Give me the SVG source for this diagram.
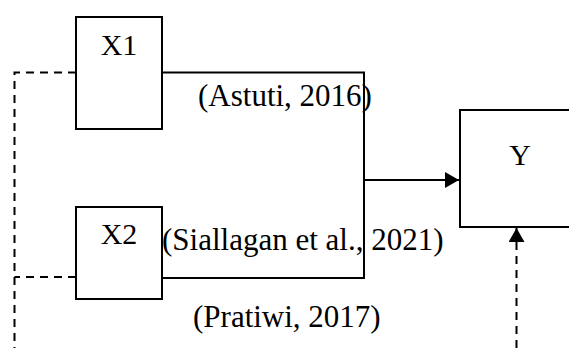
<svg xmlns="http://www.w3.org/2000/svg" width="569" height="348" viewBox="0 0 569 348">
<style>
.box{fill:#fff;stroke:#000;stroke-width:2}
.lbl{font-family:"Liberation Serif","Times New Roman",serif;font-size:30px;fill:#000}
.cite{font-family:"Liberation Serif","Times New Roman",serif;font-size:31px;fill:#000}
.solid{fill:none;stroke:#000;stroke-width:2}
.dash{fill:none;stroke:#000;stroke-width:2;stroke-dasharray:8 6}
</style>
<defs>
<marker id="ah" markerWidth="14" markerHeight="16" refX="14" refY="8" orient="auto" markerUnits="userSpaceOnUse">
<path d="M0,0 L14,8 L0,16 Z" fill="#000"/>
</marker>
</defs>
<rect width="569" height="348" fill="#fff"/>
<g id="connectors">
<path class="solid" d="M162,72.5 H364 V278 H162"/>
<path class="solid" d="M364,180 H459" marker-end="url(#ah)"/>
<path class="dash" d="M76,72.5 H14.5 V348"/>
<path class="dash" d="M76,277 H14.5"/>
<path class="dash" d="M516.5,348 V228" marker-end="url(#ah)"/>
</g>
<g id="node-x1">
<rect class="box" x="76" y="17" width="86" height="112"/>
<text class="lbl" x="119" y="55" text-anchor="middle">X1</text>
</g>
<g id="node-x2">
<rect class="box" x="76" y="207" width="86" height="92"/>
<text class="lbl" x="119" y="244" text-anchor="middle">X2</text>
</g>
<g id="node-y">
<rect class="box" x="460" y="110" width="130" height="117"/>
<text class="lbl" x="520" y="165" text-anchor="middle">Y</text>
</g>
<g id="labels">
<text class="cite" x="198" y="106">(Astuti, 2016)</text>
<text class="cite" x="162" y="250">(Siallagan et al., 2021)</text>
<text class="cite" x="193" y="327">(Pratiwi, 2017)</text>
</g>
</svg>
